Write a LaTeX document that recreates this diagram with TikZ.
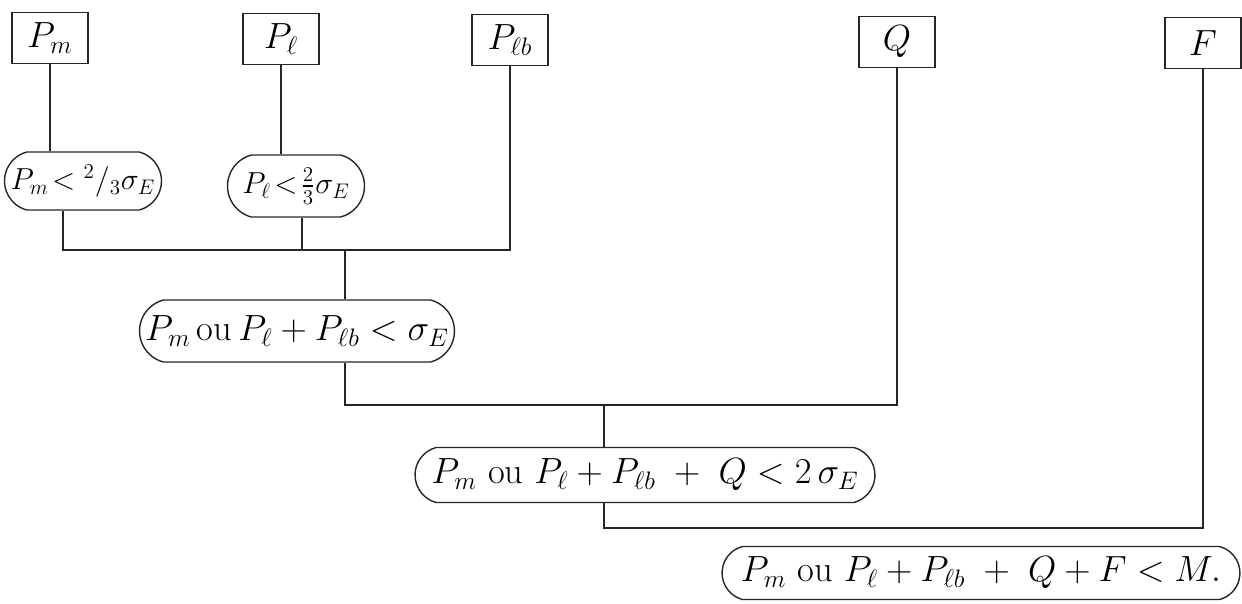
\documentclass[tikz,border=0pt]{standalone}
\usepackage{amsmath}
\usepackage{tikz}
\usetikzlibrary{shapes.misc}

\begin{document}
\begin{tikzpicture}[x=0.02cm,y=-0.02cm,
                topbox/.style={draw,thick,black!85,text=black,minimum width=1.52cm,minimum height=1.02cm,font=\huge},
                cond/.style={draw,thick,black!85,text=black,rounded rectangle,rounded rectangle arc length=150,inner sep=0pt,font=\huge}]
                \useasboundingbox (0,0) rectangle (1242,603);
                \node[topbox] (pm) at (50,38) {$P_m$};
                \node[topbox] (pl) at (281,39) {$P_\ell$};
                \node[topbox] (plb) at (510,40) {$P_{\ell b}$};
                \node[topbox] (q) at (897,42) {$Q$};
                \node[topbox] (f) at (1203,43) {$F$};
                \node[cond,font=\LARGE,minimum width=3.14cm,minimum height=1.16cm] (c1) at (83,181) {$P_m\!<{}^{2}/{}_{3}\sigma_E$};
                \node[cond,font=\LARGE,minimum width=2.74cm,minimum height=1.24cm] (c2) at (296,186) {$P_\ell\!<\!\frac{2}{3}\sigma_E$};
                \node[cond,minimum width=6.3cm,minimum height=1.24cm] (c3) at (297,331) {$P_m\,$ou$\,P_\ell+P_{\ell b}<\sigma_E$};
                \node[cond,minimum width=9.2cm,minimum height=1.1cm] (c4) at (645,475) {$P_m$ ou $P_\ell+P_{\ell b}\;+\;Q<2\,\sigma_E$};
                \node[cond,minimum width=10.36cm,minimum height=1.06cm] (c5) at (981,573) {$P_m$ ou $P_\ell+P_{\ell b}\;+\;Q+F<M.$};
                \coordinate (j1) at (345,250);
                \coordinate (j2) at (604,405);
                \coordinate (j3) at (604,528);
                \draw[thick,black!85] (pm) -- (pm |- c1.north);
                \draw[thick,black!85] (pl) -- (pl |- c2.north);
                \draw[thick,black!85] (plb) -- (plb |- j1) -| ([xshift=-0.4cm]c1.south);
                \draw[thick,black!85] ([xshift=0.12cm]c2.south) -- ([xshift=0.12cm]c2.south |- j1);
                \draw[thick,black!85] (j1) -- (j1 |- c3.north);
                \draw[thick,black!85] (q) -- (q |- j2) -| (c3.south -| j1);
                \draw[thick,black!85] (j2) -- (j2 |- c4.north);
                \draw[thick,black!85] (f) -- (f |- j3) -| (c4.south -| j3);
            \end{tikzpicture}
\end{document}
